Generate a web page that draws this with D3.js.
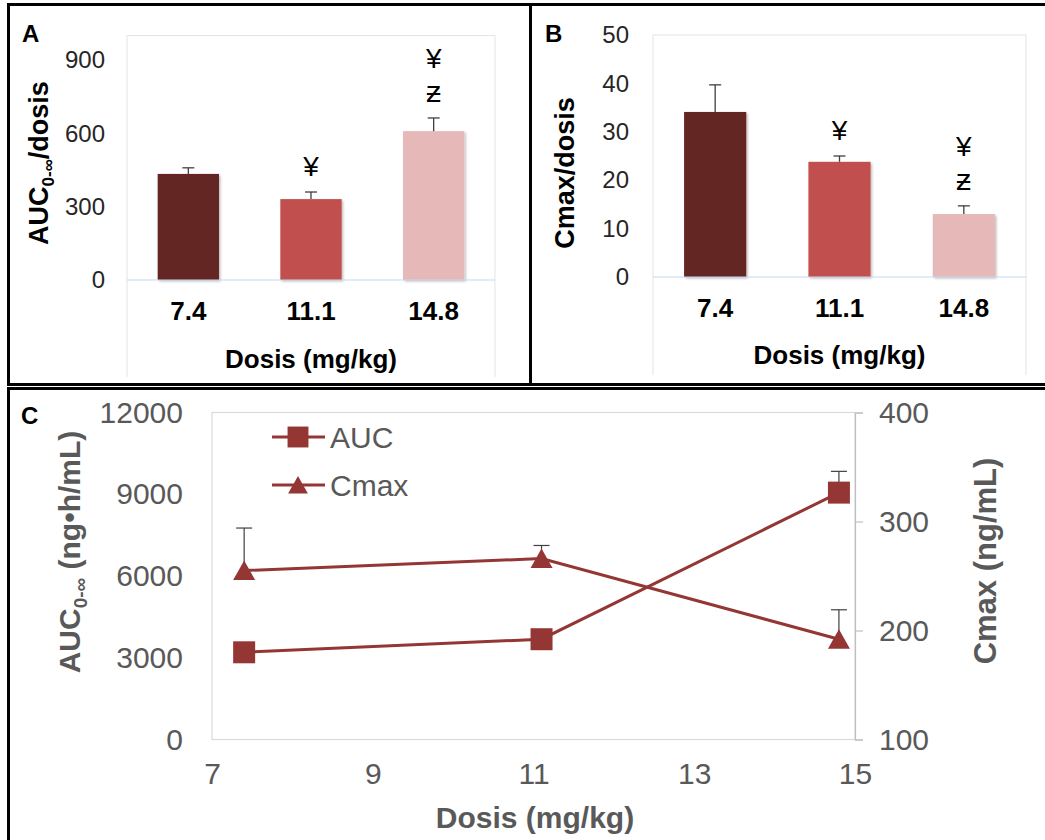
<!DOCTYPE html>
<html>
<head>
<meta charset="utf-8">
<script src="https://cdn.jsdelivr.net/npm/d3@7"></script>
<style>
  body { margin: 0; background: #fff; }
  svg { display: block; }
</style>
</head>
<body>
<script>
// ---- data ----
const doseLabels = ["7.4", "11.1", "14.8"];
const barColors = ["#632523", "#c0504d", "#e6b9b8"];

// panel A: AUC / dose
const aucPerDose = [434, 331, 609];
const aucPerDoseErr = [25, 29, 54];
const aucPerDoseSig = [[], ["¥"], ["ƶ", "¥"]];
const aucTicks = [0, 300, 600, 900];

// panel B: Cmax / dose
const cmaxPerDose = [34.1, 23.8, 13.0];
const cmaxPerDoseErr = [5.6, 1.2, 1.7];
const cmaxPerDoseSig = [[], ["¥"], ["ƶ", "¥"]];
const cmaxTicks = [0, 10, 20, 30, 40, 50];

// panel C: absolute values vs dose
const doseValues = [7.4, 11.1, 14.8];
const auc = [3200, 3680, 9060];
const aucErr = [190, 320, 780];
const cmax = [255, 266, 192];
const cmaxErr = [39, 12, 27];
const doseTicks = [7, 9, 11, 13, 15];
const aucAbsTicks = [0, 3000, 6000, 9000, 12000];
const cmaxAbsTicks = [100, 200, 300, 400];

const FONT = "'Liberation Sans', Arial, sans-serif";
const lineColor = "#943634";
const grayText = "#595959";

const svg = d3.select("body").append("svg")
  .attr("width", 1045)
  .attr("height", 840)
  .style("font-family", FONT);

const defs = svg.append("defs");
const shadow = defs.append("filter").attr("id", "shadow")
  .attr("x", "-10%").attr("y", "-10%").attr("width", "130%").attr("height", "130%");
shadow.append("feDropShadow")
  .attr("dx", 1.5).attr("dy", 1.5).attr("stdDeviation", 1.2)
  .attr("flood-color", "#000").attr("flood-opacity", 0.25);

// panel frames
svg.append("rect").attr("x", 8.5).attr("y", 4.5).attr("width", 522).attr("height", 380)
  .attr("fill", "none").attr("stroke", "#000").attr("stroke-width", 3);
svg.append("rect").attr("x", 530.5).attr("y", 4.5).attr("width", 520).attr("height", 380)
  .attr("fill", "none").attr("stroke", "#000").attr("stroke-width", 3);
svg.append("rect").attr("x", 8.5).attr("y", 388.5).attr("width", 1042).attr("height", 460)
  .attr("fill", "none").attr("stroke", "#000").attr("stroke-width", 3);

function panelLetter(txt, x, y) {
  svg.append("text").attr("x", x).attr("y", y)
    .attr("font-size", "24px").attr("font-weight", "bold").attr("fill", "#000")
    .text(txt);
}

function barPanel(o) {
  const g = svg.append("g");
  const x = d3.scaleBand().domain(doseLabels)
    .range([o.left, o.right]).paddingInner(0.5).paddingOuter(0.25);
  const y = d3.scaleLinear().domain(o.domain).range([o.base, o.top]);

  // plot area outline (open at bottom)
  g.append("path")
    .attr("d", `M${o.left},${o.bottom}V${o.top}H${o.right}V${o.bottom}`)
    .attr("fill", "none").attr("stroke", "#e3e3e3").attr("stroke-width", 1);

  // y tick labels
  const yAxis = g.append("g")
    .attr("transform", `translate(${o.left},0)`)
    .call(d3.axisLeft(y).tickValues(o.ticks).tickSize(0).tickPadding(o.tickPad));
  yAxis.select(".domain").remove();
  yAxis.selectAll("text")
    .attr("font-family", FONT).attr("font-size", "24px").attr("fill", "#262626");

  // bars
  g.selectAll("rect.bar").data(o.values).enter().append("rect")
    .attr("class", "bar")
    .attr("x", (d, i) => x(doseLabels[i]))
    .attr("width", x.bandwidth())
    .attr("y", d => y(d))
    .attr("height", d => y(0) - y(d))
    .attr("fill", (d, i) => barColors[i])
    .attr("filter", "url(#shadow)");

  // error bars (upper only)
  const cx = i => x(doseLabels[i]) + x.bandwidth() / 2;
  const eb = g.selectAll("g.err").data(o.values).enter().append("g")
    .attr("stroke", "#404040").attr("stroke-width", 1.3);
  eb.append("line")
    .attr("x1", (d, i) => cx(i)).attr("x2", (d, i) => cx(i))
    .attr("y1", d => y(d)).attr("y2", (d, i) => y(d + o.errs[i]));
  eb.append("line")
    .attr("x1", (d, i) => cx(i) - 6).attr("x2", (d, i) => cx(i) + 6)
    .attr("y1", (d, i) => y(d + o.errs[i])).attr("y2", (d, i) => y(d + o.errs[i]));

  // significance marks
  o.sig.forEach((marks, i) => {
    const top = y(o.values[i] + o.errs[i]);
    marks.forEach((m, k) => {
      g.append("text")
        .attr("x", cx(i)).attr("y", top - 26 - k * 33)
        .attr("text-anchor", "middle").attr("dominant-baseline", "central")
        .attr("font-size", m === "¥" ? "28px" : "30px")
        .attr("fill", "#000").text(m);
    });
  });

  // baseline
  g.append("line")
    .attr("x1", o.left).attr("x2", o.right)
    .attr("y1", y(0)).attr("y2", y(0))
    .attr("stroke", "#c6d9f0").attr("stroke-width", 1.2);

  // x category labels
  const xAxis = g.append("g")
    .attr("transform", `translate(0,${y(0)})`)
    .call(d3.axisBottom(x).tickSize(0).tickPadding(22));
  xAxis.select(".domain").remove();
  xAxis.selectAll("text")
    .attr("font-family", FONT).attr("font-size", "26px").attr("font-weight", "bold").attr("fill", "#000");

  // axis titles
  g.append("text")
    .attr("x", (o.left + o.right) / 2).attr("y", o.xTitleY)
    .attr("text-anchor", "middle").attr("font-size", "26px").attr("font-weight", "bold")
    .text("Dosis (mg/kg)");

  const yt = g.append("text")
    .attr("transform", `translate(${o.yTitleX},${o.yTitleY}) rotate(-90)`)
    .attr("text-anchor", "middle").attr("font-size", "27px").attr("font-weight", "bold");
  o.yTitle(yt);
}

function aucTitle(t, big, small) {
  t.append("tspan").text("AUC");
  t.append("tspan").attr("font-size", small).attr("dy", big * 0.22).text("0-∞");
  return t;
}

// ---- panel A ----
panelLetter("A", 22, 42);
barPanel({
  left: 127, right: 495, top: 35.6, base: 280, bottom: 377,
  domain: [0, 1000], ticks: aucTicks, tickPad: 22,
  values: aucPerDose, errs: aucPerDoseErr, sig: aucPerDoseSig,
  xTitleY: 368, yTitleX: 48, yTitleY: 163,
  yTitle: t => {
    aucTitle(t, 27, "17px");
    t.append("tspan").attr("dy", -27 * 0.22).text("/dosis");
  }
});

// ---- panel B ----
panelLetter("B", 545, 42);
barPanel({
  left: 653, right: 1026, top: 35, base: 277, bottom: 375,
  domain: [0, 50], ticks: cmaxTicks, tickPad: 24,
  values: cmaxPerDose, errs: cmaxPerDoseErr, sig: cmaxPerDoseSig,
  xTitleY: 364, yTitleX: 574, yTitleY: 173,
  yTitle: t => t.text("Cmax/dosis")
});

// ---- panel C ----
panelLetter("C", 21, 424);
const cLeft = 212, cRight = 855, cTop = 412.5, cBottom = 739.5;
const xc = d3.scaleLinear().domain([7, 15]).range([cLeft, cRight]);
const yAuc = d3.scaleLinear().domain([0, 12000]).range([cBottom, cTop]);
const yCmax = d3.scaleLinear().domain([100, 400]).range([cBottom, cTop]);

const gc = svg.append("g");
gc.append("rect")
  .attr("x", cLeft).attr("y", cTop).attr("width", cRight - cLeft).attr("height", cBottom - cTop)
  .attr("fill", "none").attr("stroke", "#d9d9d9").attr("stroke-width", 1.2);

const axL = gc.append("g").attr("transform", `translate(${cLeft},0)`)
  .call(d3.axisLeft(yAuc).tickValues(aucAbsTicks).tickFormat(d3.format("d")).tickSize(0).tickPadding(29));
axL.select(".domain").remove();
axL.selectAll("text").attr("font-family", FONT).attr("font-size", "30px").attr("fill", grayText);

const axR = gc.append("g").attr("transform", `translate(${cRight},0)`)
  .call(d3.axisRight(yCmax).tickValues(cmaxAbsTicks).tickSize(8).tickPadding(16));
axR.select(".domain").attr("stroke", "#bfbfbf").attr("stroke-width", 1.2);
axR.selectAll("line").attr("stroke", "#bfbfbf").attr("stroke-width", 1.2);
axR.selectAll("text").attr("font-family", FONT).attr("font-size", "30px").attr("fill", grayText);

const axB = gc.append("g").attr("transform", `translate(0,${cBottom})`)
  .call(d3.axisBottom(xc).tickValues(doseTicks).tickSize(0).tickPadding(23));
axB.select(".domain").remove();
axB.selectAll("text").attr("font-family", FONT).attr("font-size", "30px").attr("fill", grayText);

// axis titles
gc.append("text").attr("x", 535).attr("y", 828)
  .attr("text-anchor", "middle").attr("font-size", "30px").attr("font-weight", "bold")
  .attr("fill", grayText).text("Dosis (mg/kg)");
const ytL = gc.append("text")
  .attr("transform", "translate(80,552) rotate(-90)")
  .attr("text-anchor", "middle").attr("font-size", "30px").attr("font-weight", "bold")
  .attr("fill", grayText);
aucTitle(ytL, 30, "19px");
ytL.append("tspan").attr("dy", -30 * 0.22).text(" (ng•h/mL)");
gc.append("text")
  .attr("transform", "translate(996,561) rotate(-90)")
  .attr("text-anchor", "middle").attr("font-size", "31px").attr("font-weight", "bold")
  .attr("fill", grayText).text("Cmax (ng/mL)");

const triPath = "M0,-10L11,9.5L-11,9.5Z";
const sqPath = "M-11,-11H11V11H-11Z";

function errBars(vals, errs, yScale) {
  const eg = gc.append("g").attr("stroke", "#404040").attr("stroke-width", 1.2);
  vals.forEach((v, i) => {
    const px = xc(doseValues[i]);
    eg.append("line").attr("x1", px).attr("x2", px)
      .attr("y1", yScale(v)).attr("y2", yScale(v + errs[i]));
    eg.append("line").attr("x1", px - 8).attr("x2", px + 8)
      .attr("y1", yScale(v + errs[i])).attr("y2", yScale(v + errs[i]));
  });
}
errBars(auc, aucErr, yAuc);
errBars(cmax, cmaxErr, yCmax);

const lineGen = yScale => d3.line().x((d, i) => xc(doseValues[i])).y(d => yScale(d));
gc.append("path").datum(auc).attr("d", lineGen(yAuc))
  .attr("fill", "none").attr("stroke", lineColor).attr("stroke-width", 3);
gc.append("path").datum(cmax).attr("d", lineGen(yCmax))
  .attr("fill", "none").attr("stroke", lineColor).attr("stroke-width", 3);

gc.selectAll("path.sq").data(auc).enter().append("path").attr("class", "sq")
  .attr("d", sqPath).attr("fill", lineColor)
  .attr("transform", (d, i) => `translate(${xc(doseValues[i])},${yAuc(d)})`);
gc.selectAll("path.tri").data(cmax).enter().append("path").attr("class", "tri")
  .attr("d", triPath).attr("fill", lineColor)
  .attr("transform", (d, i) => `translate(${xc(doseValues[i])},${yCmax(d)})`);

// legend
const legend = [
  { name: "AUC", shape: sqPath, y: 437 },
  { name: "Cmax", shape: triPath, y: 485 }
];
const lg = gc.append("g");
legend.forEach(l => {
  lg.append("line").attr("x1", 272).attr("x2", 325).attr("y1", l.y).attr("y2", l.y)
    .attr("stroke", lineColor).attr("stroke-width", 3);
  lg.append("path").attr("d", l.shape).attr("fill", lineColor)
    .attr("transform", `translate(298,${l.y}) scale(${l.name === "AUC" ? 0.95 : 0.9})`);
  lg.append("text").attr("x", 330).attr("y", l.y).attr("dominant-baseline", "central")
    .attr("font-size", "30px").attr("fill", grayText).text(l.name);
});
</script>
</body>
</html>
